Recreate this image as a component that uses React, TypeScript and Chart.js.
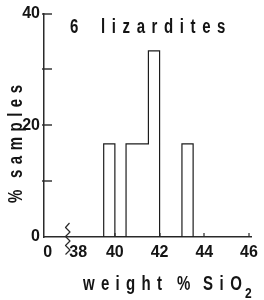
import React, { useEffect, useRef } from 'react';
import { Chart, registerables } from 'chart.js';
Chart.register(...registerables);

// ---- data ----
const binStarts = [39.5, 40, 40.5, 41, 41.5, 42, 42.5, 43];
const binWidth = 0.5;
const percentSamples = [16.67, 0, 16.67, 16.67, 33.33, 0, 0, 16.67];
const xBreakValue = 37.0; // broken-axis origin labelled "0"
const xTickValues = [37.0, 38, 40, 42, 44, 46];
const xTickLabels = ['0', '\u200338', '40', '42', '44', '46'];
const yTickValues = [0, 10, 20, 30, 40];
const yTickLabels = ['0', '', '20', '', '40'];
const titleParts = ['6', 'lizardites'];
const xTitleParts = ['weight', '%', 'SiO', '2'];
const yTitleParts = ['%', 'samples'];

const INK = '#141414';
const BOLD = "bold 20px 'Liberation Sans', 'DejaVu Sans', sans-serif";
const TICKFONT = "'Liberation Sans', 'DejaVu Sans', sans-serif";

function spaced(ctx: CanvasRenderingContext2D, text: string, x: number, y: number, gap: number, sx: number) {
  let cx = x;
  for (const ch of text) {
    ctx.save();
    ctx.translate(cx, y);
    ctx.scale(sx, 1);
    ctx.fillText(ch, 0, 0);
    ctx.restore();
    cx += ctx.measureText(ch).width * sx + gap;
  }
}

const decorPlugin = {
  id: 'decor',
  afterDraw(chart: any) {
    const ctx: CanvasRenderingContext2D = chart.ctx;
    const xs = chart.scales.x;
    const ys = chart.scales.y;
    const area = chart.chartArea;
    ctx.save();
    // inward ticks
    ctx.fillStyle = '#2a2a2a';
    yTickValues.forEach((v) => {
      if (v === 0) return;
      const py = Math.round(ys.getPixelForValue(v));
      ctx.fillRect(area.left - 2, py - 0.7, 10, 1.4);
    });
    xTickValues.forEach((v) => {
      if (v === xBreakValue || v === 38) return;
      const px = Math.round(xs.getPixelForValue(v));
      ctx.fillRect(px - 0.6, area.bottom - 4, 1.2, 4);
    });

    // axis break squiggle
    ctx.strokeStyle = '#2a2a2a';
    ctx.lineWidth = 1.2;
    ctx.lineJoin = 'round';
    ctx.beginPath();
    const top = area.bottom - 14;
    ctx.moveTo(69.5, top);
    let k = 1;
    for (let yy = top + 4.5; yy <= area.bottom + 19; yy += 4.5) {
      ctx.lineTo(k % 2 ? 65.5 : 70, yy);
      k++;
    }
    ctx.stroke();

    // texts
    ctx.fillStyle = INK;
    ctx.font = BOLD;
    ctx.textBaseline = 'alphabetic';
    ctx.textAlign = 'left';
    spaced(ctx, titleParts[0], 70, 33, 6, 0.75);
    spaced(ctx, titleParts[1], 101, 33, 6.6, 0.75);

    spaced(ctx, xTitleParts[0], 83, 290, 6.3, 0.75);
    spaced(ctx, xTitleParts[1], 177, 290, 6, 0.75);
    spaced(ctx, xTitleParts[2], 203, 290, 6.5, 0.75);
    ctx.font = "bold 15px 'Liberation Sans', 'DejaVu Sans', sans-serif";
    spaced(ctx, xTitleParts[3], 245, 298, 0, 0.8);

    ctx.font = BOLD;
    ctx.save();
    ctx.translate(22, 203);
    ctx.rotate(-Math.PI / 2);
    spaced(ctx, yTitleParts[0], 0, 0, 5, 0.75);
    spaced(ctx, yTitleParts[1], 25, 0, 5.5, 0.75);
    ctx.restore();
    ctx.restore();
  },
};

export default function App() {
  const ref = useRef<HTMLCanvasElement | null>(null);
  useEffect(() => {
    if (!ref.current) return;
    const pts = [{ x: binStarts[0], y: 0 }]
      .concat(binStarts.map((s, i) => ({ x: s, y: percentSamples[i] })))
      .concat([{ x: binStarts[binStarts.length - 1] + binWidth, y: 0 }]);
    const chart = new Chart(ref.current, {
      type: 'line',
      data: {
        datasets: [
          {
            data: pts,
            stepped: 'before',
            borderColor: '#1c1c1c',
            borderWidth: 1.2,
            pointRadius: 0,
            fill: false,
          },
        ],
      },
      options: {
        responsive: false,
        animation: false,
        layout: { padding: { left: 0, top: 13, right: 7, bottom: 0 } },
        plugins: { legend: { display: false }, tooltip: { enabled: false } },
        scales: {
          x: {
            type: 'linear',
            min: 36.83,
            max: 46.11,
            grid: { display: false, drawTicks: false },
            border: { display: true, color: '#2a2a2a', width: 1.5 },
            afterBuildTicks: (s: any) => {
              s.ticks = xTickValues.map((v) => ({ value: v }));
            },
            afterFit: (s: any) => {
              s.height = 63;
            },
            ticks: {
              autoSkip: false,
              maxRotation: 0,
              padding: 6,
              color: INK,
              font: { family: TICKFONT, size: 16, weight: 'bold' },
              callback: (_v: any, i: number) => xTickLabels[i],
            },
          },
          y: {
            min: 0,
            max: 40,
            grid: { display: false, drawTicks: false },
            border: { display: true, color: '#2a2a2a', width: 1.5 },
            afterBuildTicks: (s: any) => {
              s.ticks = yTickValues.map((v) => ({ value: v }));
            },
            afterFit: (s: any) => {
              s.width = 44;
            },
            ticks: {
              autoSkip: false,
              padding: 4,
              color: INK,
              font: { family: TICKFONT, size: 16, weight: 'bold' },
              callback: (_v: any, i: number) => yTickLabels[i],
            },
          },
        },
      },
      plugins: [decorPlugin],
    } as any);
    return () => chart.destroy();
  }, []);
  return (
    <div style={{ position: 'absolute', left: 0, top: 0, width: 264, height: 300, background: '#fff' }}>
      <canvas ref={ref} width={264} height={300} style={{ display: 'block' }} />
    </div>
  );
}
